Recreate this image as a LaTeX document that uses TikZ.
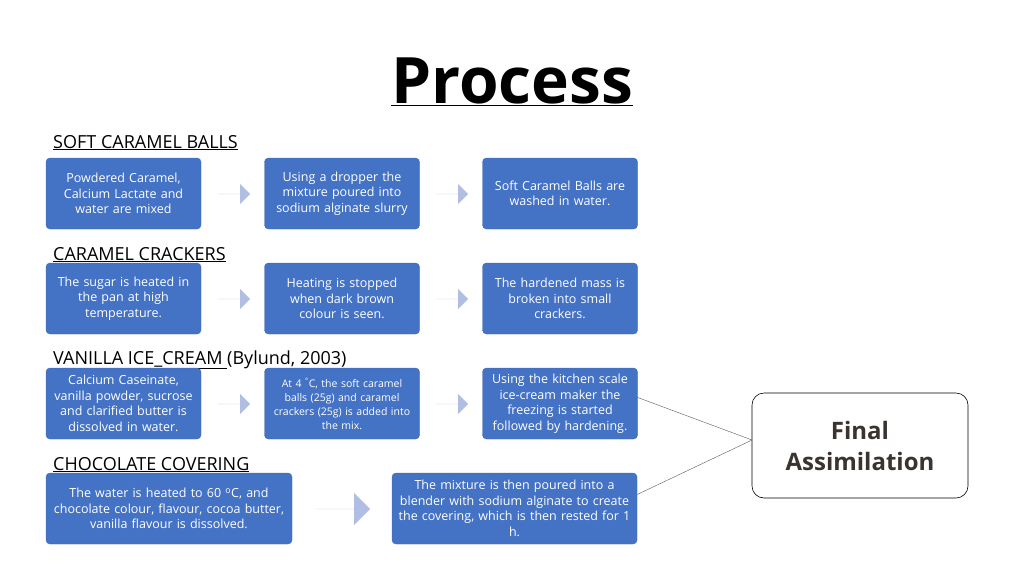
\documentclass[tikz,border=0pt]{standalone}
\usepackage{fontspec}
\setmainfont{Open Sans}
\usetikzlibrary{shapes.arrows}
\definecolor{bx}{HTML}{4472C4}
\definecolor{ar}{HTML}{B0BEE3}
\definecolor{fin}{HTML}{3B3330}
\begin{document}
\begin{tikzpicture}[x=1pt,y=-1pt,
  box/.style={fill=bx,draw=bx!90!black,line width=0.4pt,rounded corners=4pt,text=white,align=center,font=\fontsize{12.5}{15.5}\selectfont,inner sep=2pt},
  arr/.style={fill=ar,single arrow,single arrow head extend=9pt,minimum height=32pt,minimum width=20pt,inner sep=0pt,draw=none},
  hd/.style={anchor=base west,font=\fontsize{18}{20}\selectfont,inner sep=0pt}]
\useasboundingbox (0,0) rectangle (1024,576);
\node[font=\bfseries\fontsize{64}{70}\selectfont,inner sep=0pt] (title) at (512,82) {\underline{Process}};
\node[hd] (h1) at (53,148) {\underline{SOFT CARAMEL BALLS}};
\node[hd] (h2) at (53,260) {\underline{CARAMEL CRACKERS}};
\node[hd] (h3) at (53,364) {\underline{VANILLA ICE\_CREAM }(Bylund, 2003)};
\node[hd] (h4) at (53,470) {\underline{CHOCOLATE COVERING}};
\def\bw{155pt}
\def\bh{71pt}
% row 1
\node[box,minimum width=\bw,minimum height=\bh,text width=150pt] (a1) at (123.5,193.5) {Powdered Caramel,\\Calcium Lactate and\\water are mixed};
\node[box,minimum width=\bw,minimum height=\bh,text width=150pt] (a2) at (342,193.5) {Using a dropper the\\mixture poured into\\sodium alginate slurry};
\node[box,minimum width=\bw,minimum height=\bh,text width=150pt] (a3) at (560,193.5) {Soft Caramel Balls are\\washed in water.};
\node[arr] (p1) at (234,194) {};
\node[arr] (p2) at (452,194) {};
% row 2
\node[box,minimum width=\bw,minimum height=\bh,text width=150pt] (b1) at (123.5,298.5) {The sugar is heated in\\the pan at high\\temperature.};
\node[box,minimum width=\bw,minimum height=\bh,text width=150pt] (b2) at (342,298.5) {Heating is stopped\\when dark brown\\colour is seen.};
\node[box,minimum width=\bw,minimum height=\bh,text width=150pt] (b3) at (560,298.5) {The hardened mass is\\broken into small\\crackers.};
\node[arr] (q1) at (234,299) {};
\node[arr] (q2) at (452,299) {};
% row 3
\node[box,minimum width=\bw,minimum height=\bh,text width=150pt] (c1) at (123.5,403.5) {Calcium Caseinate,\\vanilla powder, sucrose\\and clarified butter is\\dissolved in water.};
\node[box,minimum width=\bw,minimum height=\bh,text width=150pt,font=\fontsize{10.5}{14}\selectfont] (c2) at (342,403.5) {At 4 \textsuperscript{\textdegree}C, the soft caramel\\balls (25g) and caramel\\crackers (25g) is added into\\the mix.};
\node[box,minimum width=\bw,minimum height=\bh,text width=150pt] (c3) at (560,403.5) {Using the kitchen scale\\ice-cream maker the\\freezing is started\\followed by hardening.};
\node[arr] (r1) at (234,404) {};
\node[arr] (r2) at (452,404) {};
% row 4
\node[box,minimum width=246pt,minimum height=\bh,text width=240pt] (d1) at (169,508.5) {The water is heated to 60 \textsuperscript{o}C, and\\chocolate colour, flavour, cocoa butter,\\vanilla flavour is dissolved.};
\node[box,minimum width=245pt,minimum height=\bh,text width=240pt] (d2) at (514.5,508.5) {The mixture is then poured into a\\blender with sodium alginate to create\\the covering, which is then rested for 1\\h.};
\node[arr,minimum height=54pt,minimum width=32pt,single arrow head extend=15pt] (s1) at (343,509) {};
% final
\node[draw=black,line width=0.6pt,rounded corners=12pt,minimum width=216pt,minimum height=105pt,align=center,text=fin,font=\bfseries\fontsize{24}{31}\selectfont] (f) at (860,445.5) {Final\\Assimilation};
\coordinate (fj) at (752,440);
\draw[line width=0.4pt,gray!70!black] (c3.east) ++(0,-6) coordinate (c3e) -- (fj);
\draw[line width=0.4pt,gray!70!black] (d2.east) ++(0,-14) coordinate (d2e) -- (fj);
\end{tikzpicture}
\end{document}
